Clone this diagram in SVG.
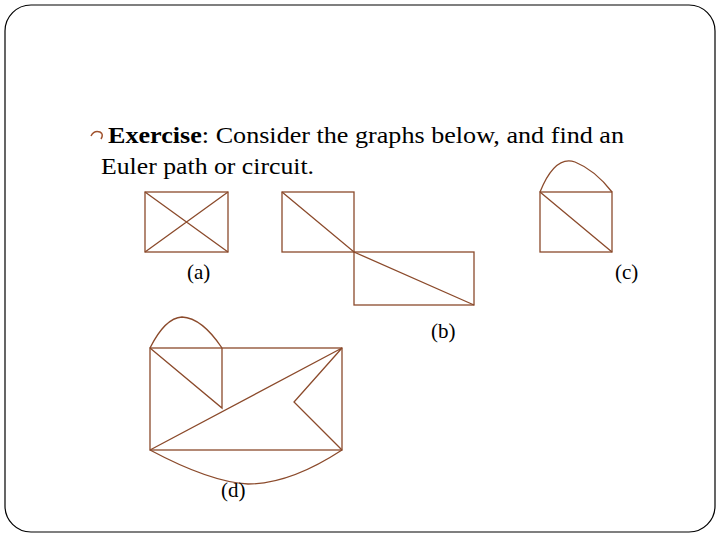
<svg xmlns="http://www.w3.org/2000/svg" width="720" height="540" viewBox="0 0 720 540">
<style>
.e{fill:none;stroke:#8B4A2B;stroke-width:1.3}
.t{font-family:"Liberation Serif",serif;fill:#000}
</style>
<rect x="0" y="0" width="720" height="540" fill="#fff"/>
<rect x="5" y="5" width="710" height="527" rx="26" fill="none" stroke="#000" stroke-width="1.2"/>
<path d="M91 136 q3 -6 9 -4 q4 2 1 7" fill="none" stroke="#A0522D" stroke-width="1.5"/>
<text class="t" x="108" y="143" font-size="23" textLength="516" lengthAdjust="spacingAndGlyphs"><tspan font-weight="bold">Exercise</tspan>: Consider the graphs below, and find an</text>
<text class="t" x="101" y="174" font-size="23" textLength="213" lengthAdjust="spacingAndGlyphs">Euler path or circuit.</text>
<g id="graph-a" class="e">
<rect x="145" y="192" width="83" height="60"/>
<path d="M145 192 L228 252 M228 192 L145 252"/>
</g>
<g id="graph-b" class="e">
<rect x="282" y="192" width="72" height="60"/>
<rect x="354" y="252" width="120" height="53"/>
<path d="M282 192 L354 252 L474 305"/>
</g>
<g id="graph-c" class="e">
<rect x="540" y="192" width="72" height="60"/>
<path d="M540 192 L612 252 M540 192 Q555 155 575 162 Q595 170 612 192"/>
</g>
<g id="graph-d" class="e">
<rect x="150" y="348" width="192" height="102"/>
<path d="M222 348 L222 408 L150 348 M150 450 L342 348 L294 402 L342 450"/>
<path d="M150 348 Q165 318 182 317 Q202 318 222 348"/>
<path d="M150 450 Q210 482 248 484 Q290 484 342 450"/>
</g>
<g id="labels" class="t" font-size="21">
<text x="187" y="279">(a)</text>
<text x="615" y="279">(c)</text>
<text x="431" y="338">(b)</text>
<text x="221" y="497">(d)</text>
</g>
</svg>
